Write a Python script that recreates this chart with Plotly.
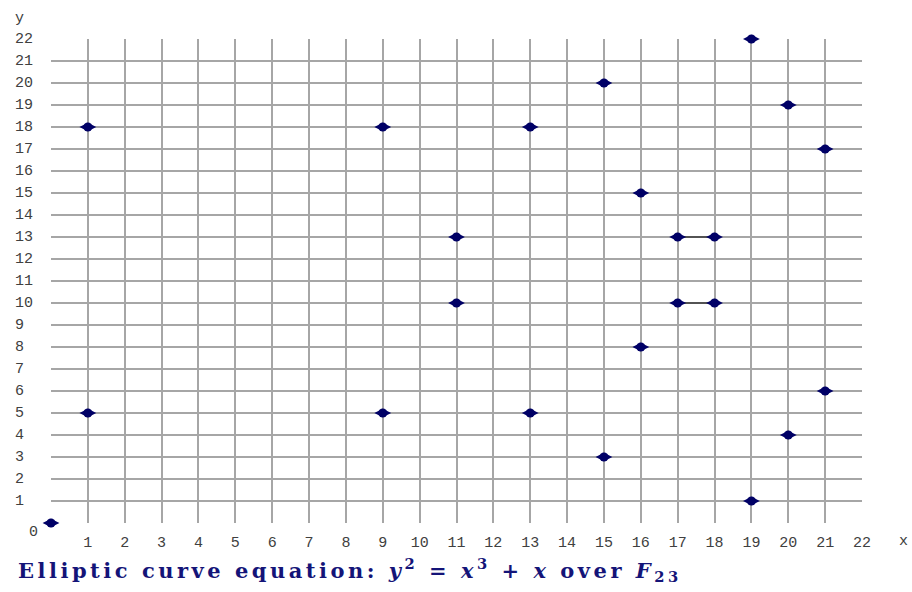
import plotly.graph_objects as go

x_pts = [0, 1, 1, 9, 9, 11, 11, 13, 13, 15, 15, 16, 16, 17, 17, 18, 18, 19, 19, 20, 20, 21, 21]
y_pts = [0, 5, 18, 5, 18, 10, 13, 5, 18, 3, 20, 8, 15, 10, 13, 10, 13, 1, 22, 4, 19, 6, 17]
seg1_x = [17, 18]
seg1_y = [13, 13]
seg2_x = [17, 18]
seg2_y = [10, 10]
ticks = list(range(0, 23))
x_ticktext = [""] + [str(i) for i in range(1, 23)]
y_labels = list(range(1, 23))

NAVY = "#000066"
GRID = "#a6a6a6"
TICKFONT = dict(family="Liberation Mono, Courier New, monospace", size=15, color="#404040")

fig = go.Figure()
for sx, sy in [(seg1_x, seg1_y), (seg2_x, seg2_y)]:
    fig.add_trace(go.Scatter(x=sx, y=sy, mode="lines", line=dict(color="black", width=1.2),
                             hoverinfo="skip", showlegend=False))
fig.add_trace(go.Scatter(x=x_pts, y=y_pts, mode="markers",
                         marker=dict(symbol="circle", size=9, color=NAVY, line=dict(width=0)),
                         cliponaxis=False, showlegend=False))
fig.add_trace(go.Scatter(x=x_pts, y=y_pts, mode="markers",
                         marker=dict(symbol="diamond-wide", size=12, color=NAVY, line=dict(width=0)),
                         cliponaxis=False, showlegend=False))

annotations = []
for v in y_labels:
    annotations.append(dict(x=0, xref="paper", y=v, yref="y", text=str(v), showarrow=False,
                            xanchor="left", xshift=-38, font=TICKFONT))
annotations.append(dict(x=0, xref="paper", y=0, yref="y", text="0", showarrow=False,
                        xanchor="left", xshift=-24, yshift=-9, font=TICKFONT))
annotations.append(dict(x=0, xref="paper", y=1, yref="paper", text="y", showarrow=False,
                        xanchor="left", yanchor="top", xshift=-38, yshift=31, font=TICKFONT))
annotations.append(dict(x=1, xref="paper", y=0, yref="paper", text="x", showarrow=False,
                        xanchor="center", yanchor="middle", xshift=41, yshift=-18, font=TICKFONT))
annotations.append(dict(x=0, xref="paper", y=0, yref="paper",
                        text="<span style='letter-spacing:3.5px'><b>Elliptic curve equation: <i>y</i><sup>2</sup> = <i>x</i><sup>3</sup> + <i>x</i> over <i>F</i><sub>23</sub></b></span>",
                        showarrow=False, xanchor="left", yanchor="middle", xshift=-35, yshift=-47,
                        font=dict(family="DejaVu Serif, serif", size=21, color="#141478")))

fig.update_layout(
    width=912, height=592,
    margin=dict(l=51, r=50, t=39, b=69, autoexpand=False),
    paper_bgcolor="white", plot_bgcolor="white",
    annotations=annotations,
    xaxis=dict(range=[0, 22], tickvals=ticks, ticktext=x_ticktext, showgrid=True,
               gridcolor=GRID, gridwidth=1.5, zeroline=False, showline=False, ticks="",
               tickfont=TICKFONT, ticklabelstandoff=8, fixedrange=True, automargin=False),
    yaxis=dict(range=[0, 22], tickvals=ticks, showticklabels=False, showgrid=True,
               gridcolor=GRID, gridwidth=1.5, zeroline=False, showline=False, ticks="",
               fixedrange=True, automargin=False),
)
fig.write_html("out.html", config={"displayModeBar": False},
               post_script="document.body.style.margin='0';document.body.style.overflow='hidden';")
